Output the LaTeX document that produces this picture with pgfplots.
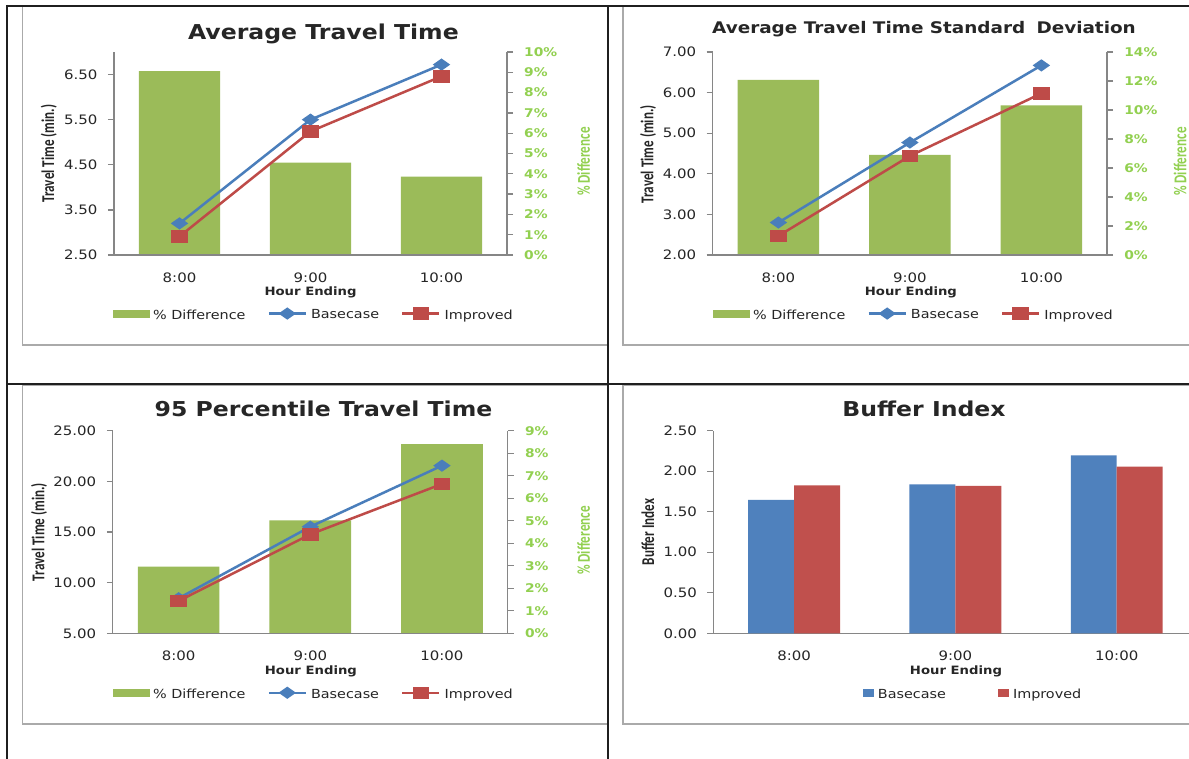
\documentclass[border=0pt]{standalone}
\usepackage{fontspec}
\setmainfont{DejaVu Sans}[FakeStretch=1.15]
\newfontfamily\calibri{Carlito}[FakeStretch=0.73]
\usepackage{pgfplots}
\pgfplotsset{compat=1.18}

\definecolor{barg}{HTML}{9BBB59}
\definecolor{lblue}{HTML}{4A7EBB}
\definecolor{lred}{HTML}{BE4B48}
\definecolor{bblue}{HTML}{4F81BD}
\definecolor{bred}{HTML}{C0504D}
\definecolor{pctg}{HTML}{92D050}
\definecolor{spine}{HTML}{868686}
\definecolor{frame}{HTML}{AAAAAA}
\definecolor{txt}{HTML}{262626}

\newcommand\tickfont{\fontsize{13}{15}\selectfont}
\newcommand\pctfont{\bfseries\fontsize{12}{14}\selectfont}
\newcommand\legfont{\fontsize{12.5}{15}\selectfont}
\newcommand\labfont{\calibri\bfseries\fontsize{18}{20}\selectfont}
\newcommand\titlefont{\bfseries\fontsize{20.5}{24}\selectfont}
\newcommand\xlabfont{\bfseries\fontsize{11.5}{14}\selectfont}

\pgfplotsset{
  common/.style={
    scale only axis, xmin=-0.5, xmax=2.5,
    axis line style={spine, line width=1.3pt},
    tick style={spine, line width=1.3pt},
    major tick length=6pt, tick align=outside,
  },
  % right axis holding the % difference bars
  pctaxis/.style={
    common, axis x line=none, axis y line*=right,
    yticklabel style={anchor=west, font=\pctfont, text=pctg, inner sep=0pt, xshift=11pt},
    ylabel style={anchor=center, font=\labfont, text=pctg},
  },
  % left axis holding the travel time lines
  valaxis/.style={
    common, axis y line*=left, axis x line*=bottom,
    xtick={0,1,2}, xticklabels={8:00,9:00,10:00},
    xtick style={draw=none},
    xticklabel style={anchor=base, font=\tickfont, text=txt, yshift=-21.7pt},
    yticklabel style={anchor=east, font=\tickfont, text=txt, inner sep=0pt, xshift=-10.4pt},
    ylabel style={anchor=center, font=\labfont, text=txt},
    legend image code/.code={\draw[mark repeat=2,mark phase=2,##1] plot coordinates {(0pt,1.5pt) (18.5pt,1.5pt) (37pt,1.5pt)};},
    legend style={draw=none, fill=none, inner sep=0pt, outer sep=0pt,
      legend columns=3, font=\legfont, text=txt, anchor=west,
      nodes={inner sep=0pt},
      column sep=4pt,
      /tikz/every even column/.append style={column sep=22pt}},
  },
  baseline/.style={color=lblue, line width=2.5pt, mark=diamond*, mark size=4.6pt,
    mark options={xscale=1.9, solid, fill=lblue}},
  improved/.style={color=lred, line width=2.5pt, mark=square*, mark size=5pt,
    mark options={xscale=1.4, solid, fill=lred}},
}

\begin{document}
\begin{tikzpicture}[x=1pt,y=1pt]
\useasboundingbox (0,0) rectangle (1189,759);
\clip (0,0) rectangle (1189,759);
\fill[white] (0,0) rectangle (1189,759);

% chart frames
\draw[frame, line width=1.5pt] (22.7,414) rectangle (608,753);
\draw[frame, line width=1.5pt] (623,414) rectangle (1200,753);
\draw[frame, line width=1.5pt] (22.7,35) rectangle (608,373.7);
\draw[frame, line width=1.5pt] (623,35) rectangle (1200,373.7);

% ---------------- Average Travel Time ----------------
\begin{axis}[pctaxis, at={(114pt,504pt)}, width=393pt, height=203pt,
  ymin=0, ymax=10, ytick={0,1,...,10},
  yticklabels={0\%,1\%,2\%,3\%,4\%,5\%,6\%,7\%,8\%,9\%,10\%},
  ylabel={\% Difference}, ylabel style={at={(axis description cs:1.195,0.46)}}]
\addplot[ybar, bar width=0.62, bar shift=0pt, fill=barg, draw=none]
  coordinates {(0,9.06) (1,4.55) (2,3.86)};
\end{axis}
\begin{axis}[valaxis, at={(114pt,504pt)}, width=393pt, height=203pt,
  ymin=2.5, ymax=7, ytick={2.5,3.5,4.5,5.5,6.5},
  yticklabels={2.50,3.50,4.50,5.50,6.50},
  ylabel={Travel Time (min.)}, ylabel style={at={(axis description cs:-0.166,0.5)}},
  legend style={at={(axis description cs:-0.003,-0.2934)}}]
\addlegendimage{legend image code/.code={\fill[barg] (0pt,-2.1pt) rectangle (36pt,5.1pt);}}
\addlegendentry{\% Difference}
\addplot[baseline] coordinates {(0,3.20) (1,5.50) (2,6.72)};
\addlegendentry{Basecase}
\addplot[improved] coordinates {(0,2.91) (1,5.24) (2,6.46)};
\addlegendentry{Improved}
\end{axis}
\node[anchor=base, font=\titlefont, text=txt] at (323.4,719) {Average Travel Time};
\node[anchor=base, font=\xlabfont, text=txt] at (310.6,463.3) {Hour Ending};

% ---------------- Average Travel Time Standard Deviation ----------------
\begin{axis}[pctaxis, at={(712.7pt,504pt)}, width=394.4pt, height=203pt,
  ymin=0, ymax=14, ytick={0,2,...,14},
  yticklabels={0\%,2\%,4\%,6\%,8\%,10\%,12\%,14\%},
  ylabel={\% Difference}, ylabel style={at={(axis description cs:1.185,0.46)}}]
\addplot[ybar, bar width=0.62, bar shift=0pt, fill=barg, draw=none]
  coordinates {(0,12.07) (1,6.90) (2,10.32)};
\end{axis}
\begin{axis}[valaxis, at={(712.7pt,504pt)}, width=394.4pt, height=203pt,
  ymin=2, ymax=7, ytick={2,3,...,7},
  yticklabels={2.00,3.00,4.00,5.00,6.00,7.00},
  ylabel={Travel Time (min.)}, ylabel style={at={(axis description cs:-0.164,0.496)}},
  legend style={at={(axis description cs:0,-0.2934)}}]
\addlegendimage{legend image code/.code={\fill[barg] (0pt,-2.1pt) rectangle (36pt,5.1pt);}}
\addlegendentry{\% Difference}
\addplot[baseline] coordinates {(0,2.80) (1,4.77) (2,6.67)};
\addlegendentry{Basecase}
\addplot[improved] coordinates {(0,2.47) (1,4.44) (2,5.98)};
\addlegendentry{Improved}
\end{axis}
\node[anchor=base, font=\bfseries\fontsize{16}{19}\selectfont, text=txt] at (924,725.7)
  {Average Travel Time Standard\hspace{0.3em} Deviation};
\node[anchor=base, font=\xlabfont, text=txt] at (910.9,463.3) {Hour Ending};

% ---------------- 95 Percentile Travel Time ----------------
\begin{axis}[pctaxis, at={(112.8pt,125.7pt)}, width=395pt, height=202.6pt,
  ymin=0, ymax=9, ytick={0,1,...,9},
  yticklabels={0\%,1\%,2\%,3\%,4\%,5\%,6\%,7\%,8\%,9\%},
  ylabel={\% Difference}, ylabel style={at={(axis description cs:1.192,0.458)}}]
\addplot[ybar, bar width=0.62, bar shift=0pt, fill=barg, draw=none]
  coordinates {(0,2.96) (1,5.02) (2,8.40)};
\end{axis}
\begin{axis}[valaxis, at={(112.8pt,125.7pt)}, width=395pt, height=202.6pt,
  ymin=5, ymax=25, ytick={5,10,...,25},
  yticklabels={5.00,10.00,15.00,20.00,25.00},
  ylabel={Travel Time (min.)}, ylabel style={at={(axis description cs:-0.187,0.5)}},
  legend style={at={(axis description cs:0,-0.2984)}}]
\addlegendimage{legend image code/.code={\fill[barg] (0pt,-2.1pt) rectangle (36pt,5.1pt);}}
\addlegendentry{\% Difference}
\addplot[baseline] coordinates {(0,8.46) (1,15.52) (2,21.55)};
\addlegendentry{Basecase}
\addplot[improved] coordinates {(0,8.19) (1,14.77) (2,19.74)};
\addlegendentry{Improved}
\end{axis}
\node[anchor=base, font=\titlefont, text=txt] at (323.5,342.3) {95 Percentile Travel Time};
\node[anchor=base, font=\xlabfont, text=txt] at (310.9,84) {Hour Ending};

% ---------------- Buffer Index ----------------
\begin{axis}[valaxis, at={(713.4pt,125.7pt)}, width=484pt, height=202.6pt,
  ymin=0, ymax=2.5, ytick={0,0.5,...,2.5},
  yticklabels={0.00,0.50,1.00,1.50,2.00,2.50},
  ylabel={Buffer Index}, ylabel style={at={(axis description cs:-0.1355,0.5)}},
  legend image code/.code={\fill[#1] (0pt,-2.1pt) rectangle (11pt,5.2pt);},
  legend style={at={(axis description cs:0.309,-0.3024)},
    /tikz/every even column/.append style={column sep=52pt}}]
\addplot[ybar, bar width=0.285, bar shift=-0.1425, fill=bblue, draw=none]
  coordinates {(0,1.645) (1,1.839) (2,2.196)};
\addlegendentry{Basecase}
\addplot[ybar, bar width=0.285, bar shift=0.1425, fill=bred, draw=none]
  coordinates {(0,1.826) (1,1.818) (2,2.056)};
\addlegendentry{Improved}
\end{axis}
\node[anchor=base, font=\titlefont, text=txt] at (924,342.3) {Buffer Index};
\node[anchor=base, font=\xlabfont, text=txt] at (956,84) {Hour Ending};

% table rules
\draw[black!88, line width=2.2pt] (7.3,753) -- (1189,753);
\draw[black!88, line width=2.2pt] (7.3,754.1) -- (7.3,0);
\draw[black!88, line width=2.2pt] (608.3,753) -- (608.3,0);
\draw[black!88, line width=2.2pt] (7.3,375.3) -- (1189,375.3);
\end{tikzpicture}
\end{document}
